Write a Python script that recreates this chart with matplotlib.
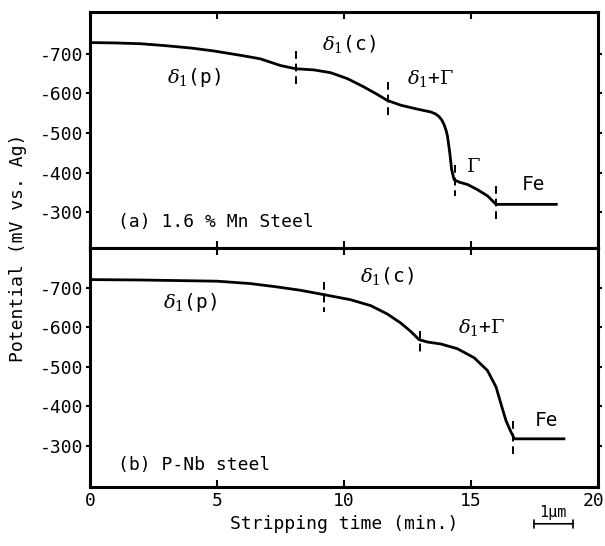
import numpy as np
import matplotlib.pyplot as plt
from matplotlib.transforms import ScaledTranslation

# Data
# (a) 1.6 % Mn steel
time_a = [0, 1, 2, 3, 4, 4.85, 6, 6.7, 7.5, 8.09, 8.81, 9.47, 10.13, 10.78, 11.31,
          11.70, 12.23, 12.89, 13.41, 13.60, 13.74, 13.85, 13.94, 14.02, 14.07,
          14.16, 14.23, 14.33, 14.53, 14.86, 15.25, 15.65, 15.98, 17.0, 18.35]
pot_a = [-728, -727, -725, -720, -714, -707, -695, -687, -670, -662, -659, -652,
         -637, -616, -597, -582, -570, -560, -553, -548, -541, -532, -520, -505,
         -491, -449, -408, -382, -376, -370, -357, -341, -320, -320, -320]
# (b) P-Nb steel
time_b = [0, 2, 4, 5, 6.3, 7.3, 8.28, 9.20, 10.26, 11.05, 11.70, 12.23, 12.62,
          12.95, 13.28, 13.81, 14.46, 15.12, 15.64, 15.98, 16.17, 16.37, 16.54,
          16.70, 17.5, 18.65]
pot_b = [-720, -719, -717, -716, -710, -702, -693, -682, -669, -654, -633, -610,
         -589, -568, -562, -557, -545, -522, -490, -448, -406, -363, -338, -317,
         -317, -317]

# phase boundaries: time, potential span
bounds_a = [(8.09, -707, -616), (11.73, -628, -542), (14.36, -420, -341), (15.98, -366, -275)]
bounds_b = [(9.2, -713, -637), (12.97, -590, -532), (16.66, -363, -275)]

labels_a = [(r'$\delta_1$(p)', 4.1, -640), (r'$\delta_1$(c)', 10.2, -725),
            (r'$\delta_1$+$\Gamma$', 13.4, -637), (r'$\Gamma$', 15.1, -415),
            ('Fe', 17.45, -370)]
labels_b = [(r'$\delta_1$(p)', 3.95, -662), (r'$\delta_1$(c)', 11.7, -730),
            (r'$\delta_1$+$\Gamma$', 15.4, -600), ('Fe', 17.95, -363)]

yticks = [-700, -600, -500, -400, -300]
xticks = [0, 5, 10, 15, 20]

plt.rcParams['font.family'] = 'DejaVu Sans Mono'
plt.rcParams['mathtext.fontset'] = 'dejavuserif'

fig = plt.figure(figsize=(6.05, 5.46), dpi=100)
ax1 = fig.add_axes([0.1488, 0.5458, 0.840, 0.4322])
ax2 = fig.add_axes([0.1488, 0.108, 0.840, 0.4378])

panels = [(ax1, time_a, pot_a, bounds_a, labels_a, '(a) 1.6 % Mn Steel', -275, (-210, -805)),
          (ax2, time_b, pot_b, bounds_b, labels_b, '(b) P-Nb steel', -250, (-195, -800))]

for ax, t, p, bounds, labels, title, ty, ylim in panels:
    ax.plot(t, p, color='black', lw=2, solid_joinstyle='round')
    for bx, y0, y1 in bounds:
        ax.plot([bx, bx], [y0, y1], color='black', lw=1.4, ls=(0, (4, 2.5)))
    for txt, lx, ly in labels:
        ax.text(lx, ly, txt, ha='center', va='center', fontsize=14)
    ax.text(1.1, ty, title, ha='left', va='center', fontsize=13)
    ax.set_xlim(0, 20)
    ax.set_ylim(*ylim)
    ax.set_yticks(yticks)
    ax.set_yticklabels([str(v) for v in yticks], fontsize=13)
    ax.set_xticks(xticks)
    for s in ax.spines.values():
        s.set_linewidth(2.2)
    ax.tick_params(axis='y', direction='out', length=3, width=1.5, right=True, pad=2)
    ax.tick_params(axis='y', which='both', labelright=False)
    ax.tick_params(axis='x', direction='in', length=5, width=1.5, top=True)

ax1.tick_params(axis='x', labelbottom=False)
ax2.set_xticklabels([str(v) for v in xticks], fontsize=13)
last = ax2.get_xticklabels()[-1]
last.set_transform(last.get_transform() + ScaledTranslation(-5 / 100, 0, fig.dpi_scale_trans))
ax2.set_xlabel('Stripping time (min.)', fontsize=13)
fig.text(0.03, 0.5458, 'Potential (mV vs. Ag)', rotation=90, ha='center', va='center', fontsize=13)

# 1 um scale bar
ax2.annotate('', xy=(19.13, -102), xytext=(17.36, -102), xycoords='data',
             arrowprops=dict(arrowstyle='|-|', lw=1.2, mutation_scale=3), annotation_clip=False)
ax2.text(18.2, -130, '1µm', ha='center', va='center', fontsize=11, clip_on=False)

plt.savefig('out.png', dpi=100)
